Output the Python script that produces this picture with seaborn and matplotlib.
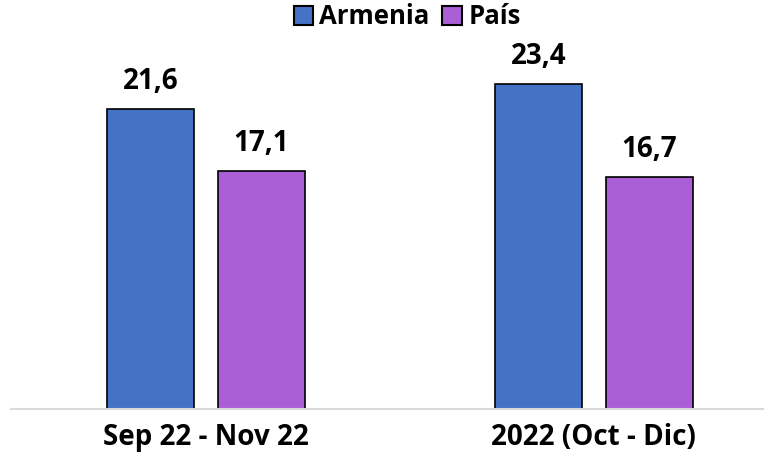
import pandas as pd
import matplotlib.pyplot as plt
import seaborn as sns

periodos = ["Sep 22 - Nov 22", "2022 (Oct - Dic)"]
series = ["Armenia", "País"]
armenia = [21.6, 23.4]
pais = [17.1, 16.7]

df = pd.DataFrame({
    "periodo": periodos * 2,
    "serie": [series[0]] * 2 + [series[1]] * 2,
    "valor": armenia + pais,
})

sns.set_style("white")
plt.rcParams["font.family"] = ["Open Sans", "DejaVu Sans"]
plt.rcParams["font.weight"] = "bold"
plt.rcParams["text.color"] = "black"
plt.rcParams["xtick.color"] = "black"
plt.rcParams["xtick.labelcolor"] = "black"

fig = plt.figure(figsize=(7.74, 4.65), dpi=100)
ax = fig.add_axes([11 / 774, 1 - 409 / 465, 752 / 774, (409 - 40) / 465])

sns.barplot(data=df, x="periodo", y="valor", hue="serie",
            palette=["#4472C4", "#AB5FD6"], saturation=1, width=0.572, gap=0.217,
            edgecolor="black", linewidth=1.2, ax=ax)

# etiquetas de valores
for cont in ax.containers:
    for bar in cont:
        h = bar.get_height()
        ax.annotate(f"{h:.1f}".replace(".", ","), (bar.get_x() + bar.get_width() / 2, h),
                    xytext=(0, 14.4), textcoords="offset points", color="black",
                    ha="center", va="baseline", fontsize=20, fontweight="bold")

ax.set_xlim(-0.503, 1.436)
ax.set_ylim(0, (409 - 40) / 13.89)
ax.set_yticks([])
ax.set_xlabel("")
ax.set_ylabel("")
ax.tick_params(axis="x", length=0, pad=10, labelsize=20, labelcolor="black")
for t in ax.get_xticklabels():
    t.set_fontweight("bold")

for s in ["top", "right", "left"]:
    ax.spines[s].set_visible(False)
ax.spines["bottom"].set_color("#D9D9D9")
ax.spines["bottom"].set_linewidth(1.5)

leg = ax.legend(loc="center", bbox_to_anchor=(0.526, (465 - 17) / 465), bbox_transform=fig.transFigure,
                ncol=2, frameon=False, fontsize=18.5, handlelength=0.75, handleheight=0.75,
                handletextpad=0.25, columnspacing=0.5, borderpad=0)
for t in leg.get_texts():
    t.set_fontweight("bold")
    t.set_color("black")
for p in leg.get_patches():
    p.set_linewidth(1.5)

plt.savefig("out.png", dpi=100)
